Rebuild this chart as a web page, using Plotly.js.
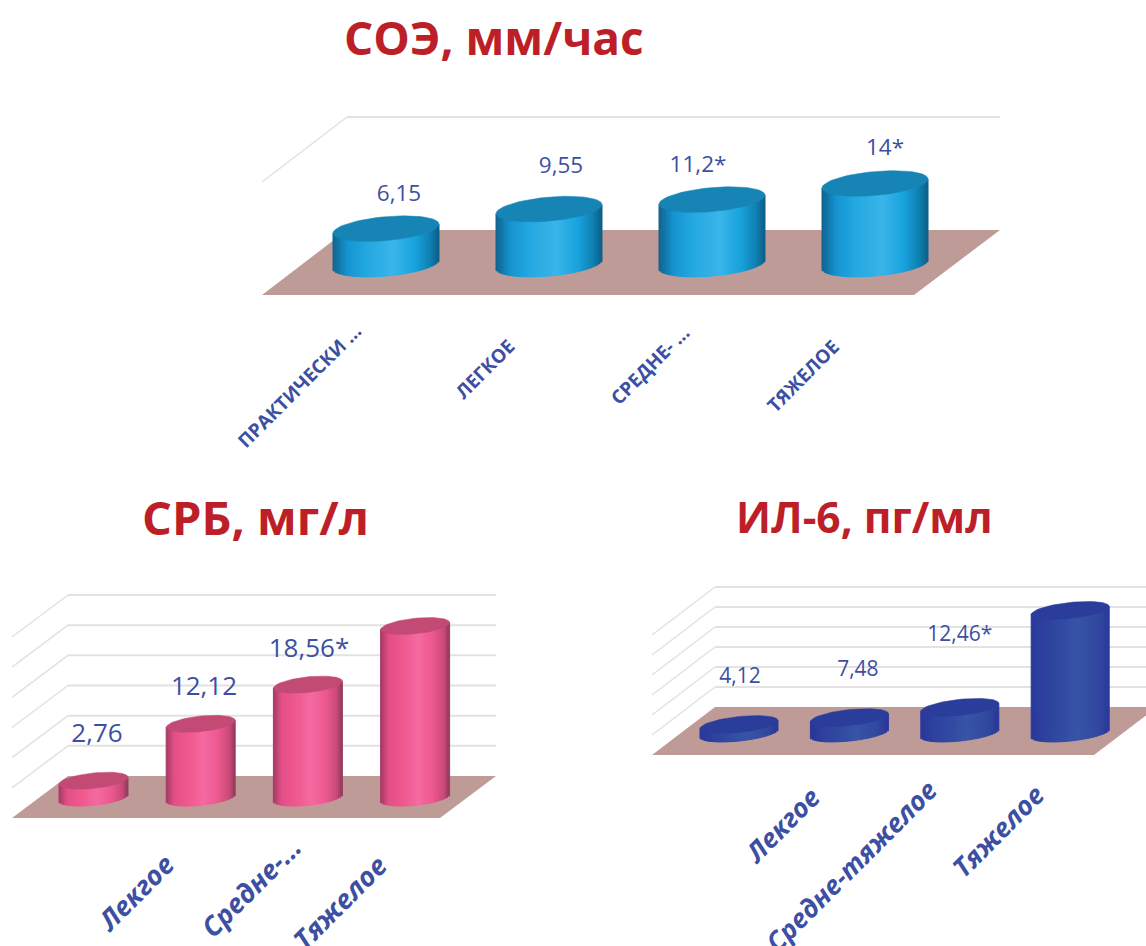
<!DOCTYPE html>
<html lang="ru">
<head>
<meta charset="utf-8">
<script src="https://cdn.plot.ly/plotly-3.0.1.min.js"></script>
<style>html,body{margin:0;padding:0;background:#fff;overflow:hidden}#chart{width:1146px;height:946px}</style>
</head>
<body>
<div id="chart"></div>
<script>
// Laboratory markers by disease severity
const soeCategories = ['ПРАКТИЧЕСКИ ...', 'ЛЕГКОЕ', 'СРЕДНЕ- ...', 'ТЯЖЕЛОЕ'];
const soeValues = [6.15, 9.55, 11.2, 14];
const soeLabels = ['6,15', '9,55', '11,2*', '14*'];

const crpCategories = ['Лекгое', 'Средне-...', 'Тяжелое'];
const crpValues = [2.76, 12.12, 18.56, 28.2];
const crpLabels = ['2,76', '12,12', '18,56*', '28,2*'];

const il6Categories = ['Лекгое', 'Средне-тяжелое', 'Тяжелое'];
const il6Values = [4.12, 7.48, 12.46, 59.5];
const il6Labels = ['4,12', '7,48', '12,46*', '59,5*'];

const W = 1146, H = 946;
const INK = '#3d4fa3', TITLE = '#bd1f29', FLOOR = '#bf9b98', GRID = '#e2e2e2';
const SLICE_PX = 2;

// Scene geometry in page pixels: first column centre, column spacing, radii, base level,
// pixels per value unit, floor and wall outline, and where the texts sit.
const panels = [
  {
    values: soeValues, labels: soeLabels, cats: soeCategories,
    c0: 386, step: 163, r: 53, baseY: 264, scale: 5.75, b: 12, shear: 4.5,
    fl: 262, fr: 914, bl: 347, br: 1000, backY: 230, frontY: 295, wallTop: 117, walls: 1,
    clipL: 258, clipR: 1004,
    labelDx: [13, 12, -14, 10], labelY: [195, 167, 166, 149], labelSize: 22.5,
    tickX: [299, 485, 650, 803], tickY: [386, 369, 365, 376], tickSize: 19, tickItalic: false,
    title: 'СОЭ, мм/час', titleX: 494, titleY: 37, titleSize: 46,
    top: '#1685b5',
    stops: [[-1, '#12628c'], [-0.72, '#1593d0'], [-0.4, '#22a6e0'], [0.15, '#3ab5e9'], [0.55, '#18a3dd'], [0.85, '#0f7fb0'], [1, '#0d5f88']]
  },
  {
    values: crpValues, labels: crpLabels, cats: crpCategories,
    c0: 93.5, step: 107.2, r: 34.5, baseY: 797.5, scale: 6.08, b: 7.8, shear: 3.5,
    fl: 12, fr: 440, bl: 68, br: 496, backY: 776, frontY: 818, wallTop: 595, walls: 6,
    clipL: 8, clipR: 500,
    labelDx: [3.5, 3.3, 1.1, -3], labelY: [735, 688, 650, 573], labelSize: 26,
    tickX: [135, 250, 339], tickY: [892, 887, 902], tickSize: 27, tickItalic: true,
    title: 'СРБ, мг/л', titleX: 255, titleY: 517, titleSize: 47,
    top: '#c24a75',
    stops: [[-1, '#a03a62'], [-0.75, '#e44f87'], [-0.3, '#f05a8f'], [0.1, '#f46ba2'], [0.5, '#ee5a90'], [0.85, '#c94a78'], [1, '#8e3a5c']]
  },
  {
    values: il6Values, labels: il6Labels, cats: il6Categories,
    c0: 739, step: 110.4, r: 39, baseY: 733, scale: 2.06, b: 8, shear: 4,
    fl: 652, fr: 1094, bl: 715, br: 1157, backY: 707, frontY: 755, wallTop: 587, walls: 6,
    clipL: 648, clipR: 1146,
    labelDx: [1, 8.5, 0, 6], labelY: [678, 671, 636, 564], labelSize: 21,
    tickX: [782, 851, 998], tickY: [825, 866, 831], tickSize: 26.5, tickItalic: true,
    title: 'ИЛ-6, пг/мл', titleX: 864, titleY: 516, titleSize: 42.5,
    top: '#2b3d9b',
    stops: [[-1, '#29389a'], [-0.5, '#2f459f'], [0.2, '#3854a6'], [0.7, '#324a9f'], [1, '#29389a']]
  }
];

function hexToRgb(h) {
  return [1, 3, 5].map(i => parseInt(h.slice(i, i + 2), 16));
}
function shade(stops, u) {
  for (let i = 1; i < stops.length; i++) {
    if (u <= stops[i][0]) {
      const t = (u - stops[i - 1][0]) / (stops[i][0] - stops[i - 1][0]);
      const a = hexToRgb(stops[i - 1][1]), b = hexToRgb(stops[i][1]);
      return 'rgb(' + a.map((v, k) => Math.round(v + (b[k] - v) * t)).join(',') + ')';
    }
  }
  return stops[stops.length - 1][1];
}

const traces = [], shapes = [], annotations = [];
const layout = {
  width: W, height: H, autosize: false,
  margin: {l: 0, r: 0, t: 0, b: 0},
  paper_bgcolor: '#fff', plot_bgcolor: 'rgba(0,0,0,0)',
  barmode: 'overlay', showlegend: false, hovermode: false
};

panels.forEach((p, idx) => {
  const suffix = idx === 0 ? '' : String(idx + 1);
  const xName = 'x' + suffix, yName = 'y' + suffix;
  const plotTop = p.wallTop - 4, plotBottom = p.frontY + 4;

  // Data coordinates: x counts columns, y counts value units above the column base.
  const xOf = px => (px - p.c0) / p.step;
  const yOf = py => (p.baseY - py) / p.scale;

  layout['xaxis' + suffix] = {
    domain: [p.clipL / W, p.clipR / W], range: [xOf(p.clipL), xOf(p.clipR)],
    anchor: yName, visible: false, fixedrange: true
  };
  layout['yaxis' + suffix] = {
    domain: [1 - plotBottom / H, 1 - plotTop / H], range: [yOf(plotBottom), yOf(plotTop)],
    anchor: xName, visible: false, fixedrange: true
  };

  // Floor parallelogram
  shapes.push({
    type: 'path', xref: xName, yref: yName, layer: 'below', line: {width: 0}, fillcolor: FLOOR,
    path: 'M' + xOf(p.fl) + ',' + yOf(p.frontY) + 'L' + xOf(p.fr) + ',' + yOf(p.frontY) +
          'L' + xOf(p.br) + ',' + yOf(p.backY) + 'L' + xOf(p.bl) + ',' + yOf(p.backY) + 'Z'
  });

  // Wall grid: a back line plus a side line running down to the front edge
  const depth = p.frontY - p.backY;
  for (let k = 1; k <= p.walls; k++) {
    const wy = p.backY - (p.backY - p.wallTop) * k / p.walls;
    shapes.push({type: 'line', xref: xName, yref: yName, layer: 'below', line: {color: GRID, width: 2},
      x0: xOf(p.bl), x1: xOf(p.br), y0: yOf(wy), y1: yOf(wy)});
    shapes.push({type: 'line', xref: xName, yref: yName, layer: 'below', line: {color: GRID, width: 1.5},
      x0: xOf(p.bl), x1: xOf(p.fl), y0: yOf(wy), y1: yOf(wy + depth)});
  }

  const positions = p.values.map((_, i) => i);
  const rx = p.r / p.step;

  // Column core: plain bars from zero up to each value
  traces.push({
    type: 'bar', xaxis: xName, yaxis: yName, x: positions, y: p.values,
    width: 1.4 * rx, marker: {color: shade(p.stops, 0), line: {width: 0}},
    hoverinfo: 'skip', cliponaxis: false
  });

  // Cylinder wall: narrow bars shaded across the width, following the curved lower rim
  const slices = Math.round(2 * p.r / SLICE_PX);
  const sx = [], sy = [], sbase = [], scolor = [];
  p.values.forEach((v, i) => {
    for (let s = 0; s < slices; s++) {
      const u = -1 + (s + 0.5) * 2 / slices;
      const arc = p.b * Math.sqrt(1 - u * u) / p.scale;
      sx.push(i + u * rx);
      sbase.push(p.shear * u / p.scale - arc);
      sy.push(v + arc);
      scolor.push(shade(p.stops, u));
    }
  });
  traces.push({
    type: 'bar', xaxis: xName, yaxis: yName, x: sx, y: sy, base: sbase,
    width: 2 * rx / slices,
    marker: {color: scolor, line: {color: scolor, width: 1}},
    hoverinfo: 'skip', cliponaxis: false
  });

  // Top faces: sheared ellipses centred on each value
  const ex = [], ey = [];
  p.values.forEach((v, i) => {
    for (let a = 0; a <= 72; a++) {
      const t = a / 72 * 2 * Math.PI;
      ex.push(i + rx * Math.cos(t));
      ey.push(v + (p.shear * Math.cos(t) + p.b * Math.sin(t)) / p.scale);
    }
    ex.push(null); ey.push(null);
  });
  traces.push({
    type: 'scatter', mode: 'lines', xaxis: xName, yaxis: yName, x: ex, y: ey,
    fill: 'toself', fillcolor: p.top, line: {color: p.top, width: 0.5},
    hoverinfo: 'skip', cliponaxis: false
  });

  // Value labels
  traces.push({
    type: 'scatter', mode: 'text', xaxis: xName, yaxis: yName,
    x: positions.map(i => i + p.labelDx[i] / p.step),
    y: p.labelY.map(yOf),
    text: p.labels, textposition: 'middle center',
    textfont: {family: '"Open Sans", sans-serif', size: p.labelSize, color: INK},
    hoverinfo: 'skip', cliponaxis: false
  });

  // Slanted category names
  p.cats.forEach((name, i) => {
    annotations.push({
      xref: xName, yref: 'paper', x: xOf(p.tickX[i]), y: 1 - p.tickY[i] / H,
      text: p.tickItalic ? '<b><i>' + name + '</i></b>' : '<b>' + name + '</b>',
      textangle: -45, showarrow: false, xanchor: 'center', yanchor: 'middle',
      font: {family: '"Open Sans", sans-serif', size: p.tickSize, color: INK}
    });
  });

  // Panel heading
  annotations.push({
    xref: 'paper', yref: 'paper', x: p.titleX / W, y: 1 - p.titleY / H,
    text: '<b>' + p.title + '</b>', showarrow: false, xanchor: 'center', yanchor: 'middle',
    font: {family: '"Open Sans", sans-serif', size: p.titleSize, color: TITLE}
  });
});

layout.shapes = shapes;
layout.annotations = annotations;
Plotly.newPlot('chart', traces, layout, {displayModeBar: false, staticPlot: true});
</script>
</body>
</html>
